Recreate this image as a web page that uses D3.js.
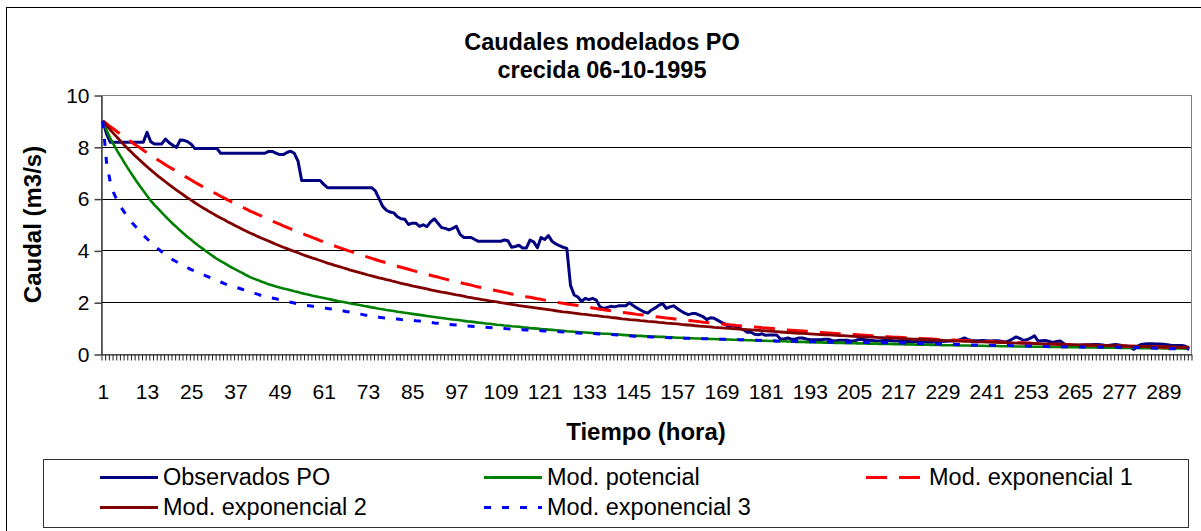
<!DOCTYPE html>
<html>
<head>
<meta charset="utf-8">
<script src="https://cdn.jsdelivr.net/npm/d3@7"></script>
<style>
  body { margin: 0; background: #fff; }
  svg text { font-family: "Liberation Sans", Arial, sans-serif; fill: #000; }
</style>
</head>
<body>
<div id="chart"></div>
<script>
// Hours 1..296 (category axis)
var hours = d3.range(1, 297);
var tickHours = [1, 13, 25, 37, 49, 61, 73, 85, 97, 109, 121, 133, 145, 157, 169, 181, 193, 205, 217, 229, 241, 253, 265, 277, 289];
var yTicks = [0, 2, 4, 6, 8, 10];
var seriesNames = ["Observados PO", "Mod. potencial", "Mod. exponencial 1", "Mod. exponencial 2", "Mod. exponencial 3"];

var observados = [
  9.00,8.50,8.18,8.18,8.18,8.18,8.18,8.18,8.18,8.18,
  8.18,8.18,8.56,8.20,8.11,8.11,8.11,8.30,8.16,8.06,
  7.98,8.26,8.25,8.20,8.10,7.93,7.93,7.93,7.93,7.93,
  7.93,7.93,7.75,7.75,7.75,7.75,7.75,7.75,7.75,7.75,
  7.75,7.75,7.75,7.75,7.75,7.82,7.82,7.76,7.70,7.70,
  7.78,7.83,7.75,7.45,6.70,6.70,6.70,6.70,6.70,6.70,
  6.55,6.42,6.42,6.42,6.42,6.42,6.42,6.42,6.42,6.42,
  6.42,6.42,6.42,6.42,6.30,6.00,5.70,5.55,5.48,5.45,
  5.30,5.22,5.20,5.00,5.05,5.05,4.93,4.99,4.92,5.10,
  5.22,5.05,4.88,4.85,4.79,4.85,4.93,4.62,4.50,4.50,
  4.50,4.42,4.35,4.35,4.35,4.35,4.35,4.35,4.35,4.40,
  4.37,4.12,4.15,4.20,4.09,4.09,4.40,4.33,4.10,4.50,
  4.42,4.57,4.35,4.25,4.18,4.12,4.08,2.65,2.28,2.20,
  2.03,2.15,2.10,2.15,2.08,1.82,1.76,1.80,1.84,1.82,
  1.86,1.86,1.86,1.98,1.87,1.78,1.70,1.62,1.58,1.70,
  1.78,1.88,1.95,1.76,1.82,1.86,1.76,1.66,1.58,1.52,
  1.56,1.56,1.50,1.44,1.33,1.40,1.38,1.30,1.22,1.15,
  1.05,1.10,1.05,0.98,0.94,0.84,0.84,0.76,0.74,0.78,
  0.72,0.73,0.73,0.73,0.58,0.58,0.62,0.57,0.57,0.62,
  0.62,0.58,0.55,0.55,0.55,0.55,0.57,0.57,0.52,0.50,
  0.53,0.53,0.53,0.50,0.50,0.55,0.57,0.55,0.53,0.52,
  0.50,0.50,0.52,0.53,0.52,0.50,0.50,0.49,0.48,0.48,
  0.47,0.47,0.46,0.46,0.45,0.45,0.46,0.47,0.48,0.49,
  0.50,0.50,0.52,0.56,0.62,0.55,0.52,0.51,0.51,0.52,
  0.51,0.50,0.51,0.51,0.49,0.46,0.50,0.58,0.66,0.60,
  0.53,0.55,0.62,0.70,0.50,0.51,0.52,0.48,0.45,0.48,
  0.50,0.40,0.32,0.30,0.32,0.34,0.35,0.36,0.36,0.37,
  0.37,0.36,0.34,0.33,0.35,0.37,0.35,0.32,0.30,0.25,
  0.18,0.30,0.37,0.39,0.40,0.40,0.39,0.39,0.38,0.36,
  0.34,0.33,0.33,0.33,0.30,0.20
];

var modPotencial = [
  9.00,8.65,8.34,8.07,7.82,7.59,7.35,7.13,6.91,6.70,
  6.50,6.30,6.11,5.92,5.76,5.61,5.46,5.31,5.17,5.03,
  4.90,4.77,4.64,4.52,4.41,4.29,4.18,4.08,3.97,3.87,
  3.77,3.67,3.59,3.51,3.42,3.34,3.27,3.19,3.12,3.04,
  2.97,2.91,2.86,2.80,2.75,2.69,2.65,2.61,2.57,2.53,
  2.50,2.46,2.42,2.39,2.35,2.32,2.29,2.25,2.22,2.19,
  2.16,2.13,2.10,2.07,2.04,2.02,1.99,1.96,1.93,1.91,
  1.88,1.85,1.83,1.80,1.78,1.75,1.73,1.70,1.68,1.66,
  1.63,1.61,1.59,1.57,1.55,1.53,1.51,1.49,1.47,1.45,
  1.43,1.41,1.39,1.37,1.35,1.33,1.32,1.30,1.28,1.26,
  1.25,1.23,1.21,1.20,1.18,1.17,1.15,1.13,1.12,1.10,
  1.09,1.07,1.06,1.05,1.03,1.02,1.00,0.99,0.98,0.96,
  0.95,0.94,0.93,0.92,0.91,0.90,0.88,0.87,0.86,0.85,
  0.84,0.83,0.82,0.81,0.80,0.79,0.78,0.78,0.77,0.76,
  0.75,0.74,0.73,0.72,0.71,0.70,0.70,0.69,0.68,0.67,
  0.67,0.66,0.66,0.65,0.64,0.64,0.63,0.63,0.62,0.61,
  0.61,0.60,0.60,0.59,0.59,0.58,0.58,0.57,0.57,0.56,
  0.56,0.55,0.55,0.54,0.54,0.53,0.53,0.52,0.52,0.51,
  0.51,0.50,0.50,0.49,0.49,0.49,0.48,0.48,0.47,0.47,
  0.47,0.46,0.46,0.46,0.45,0.45,0.44,0.44,0.44,0.43,
  0.43,0.43,0.42,0.42,0.42,0.41,0.41,0.41,0.40,0.40,
  0.40,0.39,0.39,0.39,0.39,0.38,0.38,0.38,0.37,0.37,
  0.37,0.36,0.36,0.36,0.36,0.35,0.35,0.35,0.34,0.34,
  0.34,0.34,0.33,0.33,0.33,0.33,0.32,0.32,0.32,0.32,
  0.31,0.31,0.31,0.31,0.30,0.30,0.30,0.30,0.29,0.29,
  0.29,0.29,0.28,0.28,0.28,0.28,0.28,0.27,0.27,0.27,
  0.27,0.26,0.26,0.26,0.26,0.26,0.25,0.25,0.25,0.25,
  0.25,0.24,0.24,0.24,0.24,0.24,0.23,0.23,0.23,0.23,
  0.23,0.23,0.22,0.22,0.22,0.22,0.22,0.22,0.21,0.21,
  0.21,0.21,0.21,0.21,0.20,0.20
];

var modExp1 = [
  9.00,8.89,8.78,8.68,8.57,8.47,8.36,8.26,8.16,8.06,
  7.97,7.87,7.77,7.68,7.59,7.49,7.40,7.31,7.22,7.14,
  7.05,6.97,6.88,6.80,6.72,6.63,6.55,6.47,6.40,6.32,
  6.24,6.17,6.09,6.02,5.94,5.87,5.80,5.73,5.66,5.59,
  5.52,5.46,5.39,5.33,5.26,5.20,5.13,5.07,5.01,4.95,
  4.89,4.83,4.77,4.71,4.66,4.60,4.55,4.49,4.44,4.38,
  4.33,4.28,4.22,4.17,4.12,4.07,4.02,3.97,3.93,3.88,
  3.83,3.78,3.74,3.69,3.65,3.60,3.56,3.52,3.48,3.43,
  3.39,3.35,3.31,3.27,3.23,3.19,3.15,3.11,3.08,3.04,
  3.00,2.97,2.93,2.89,2.86,2.82,2.79,2.76,2.72,2.69,
  2.66,2.62,2.59,2.56,2.53,2.50,2.47,2.44,2.41,2.38,
  2.35,2.32,2.30,2.27,2.24,2.21,2.19,2.16,2.13,2.11,
  2.08,2.06,2.03,2.01,1.98,1.96,1.93,1.91,1.89,1.87,
  1.84,1.82,1.80,1.78,1.76,1.73,1.71,1.69,1.67,1.65,
  1.63,1.61,1.59,1.57,1.55,1.53,1.52,1.50,1.48,1.46,
  1.44,1.43,1.41,1.39,1.38,1.36,1.34,1.33,1.31,1.29,
  1.28,1.26,1.25,1.23,1.22,1.20,1.19,1.17,1.16,1.15,
  1.13,1.12,1.10,1.09,1.08,1.06,1.05,1.04,1.03,1.01,
  1.00,0.99,0.98,0.97,0.95,0.94,0.93,0.92,0.91,0.90,
  0.89,0.88,0.86,0.85,0.84,0.83,0.82,0.81,0.80,0.79,
  0.78,0.78,0.77,0.76,0.75,0.74,0.73,0.72,0.71,0.70,
  0.69,0.69,0.68,0.67,0.66,0.65,0.65,0.64,0.63,0.62,
  0.61,0.61,0.60,0.59,0.59,0.58,0.57,0.56,0.56,0.55,
  0.54,0.54,0.53,0.52,0.52,0.51,0.51,0.50,0.49,0.49,
  0.48,0.48,0.47,0.46,0.46,0.45,0.45,0.44,0.44,0.43,
  0.43,0.42,0.42,0.41,0.41,0.40,0.40,0.39,0.39,0.38,
  0.38,0.37,0.37,0.36,0.36,0.35,0.35,0.35,0.34,0.34,
  0.33,0.33,0.33,0.32,0.32,0.31,0.31,0.31,0.30,0.30,
  0.30,0.29,0.29,0.28,0.28,0.28,0.27,0.27,0.27,0.26,
  0.26,0.26,0.26,0.25,0.25,0.25
];

var modExp2 = [
  9.00,8.83,8.66,8.50,8.35,8.19,8.04,7.90,7.76,7.62,
  7.49,7.36,7.23,7.11,6.99,6.87,6.76,6.65,6.54,6.43,
  6.33,6.23,6.13,6.03,5.94,5.84,5.75,5.66,5.58,5.49,
  5.41,5.33,5.25,5.18,5.10,5.03,4.95,4.88,4.81,4.74,
  4.67,4.61,4.54,4.48,4.42,4.36,4.30,4.24,4.18,4.12,
  4.07,4.01,3.96,3.91,3.85,3.80,3.75,3.70,3.66,3.61,
  3.56,3.51,3.47,3.42,3.38,3.34,3.30,3.25,3.21,3.17,
  3.13,3.09,3.05,3.02,2.98,2.94,2.91,2.87,2.84,2.80,
  2.77,2.73,2.70,2.67,2.63,2.60,2.57,2.54,2.51,2.48,
  2.45,2.42,2.39,2.37,2.34,2.31,2.28,2.26,2.23,2.20,
  2.18,2.15,2.13,2.10,2.08,2.05,2.03,2.01,1.98,1.96,
  1.94,1.92,1.90,1.87,1.85,1.83,1.81,1.79,1.77,1.75,
  1.73,1.71,1.69,1.67,1.65,1.63,1.62,1.60,1.58,1.56,
  1.54,1.53,1.51,1.49,1.48,1.46,1.44,1.43,1.41,1.40,
  1.38,1.36,1.35,1.33,1.32,1.31,1.29,1.28,1.26,1.25,
  1.24,1.22,1.21,1.19,1.18,1.17,1.16,1.14,1.13,1.12,
  1.11,1.09,1.08,1.07,1.06,1.05,1.03,1.02,1.01,1.00,
  0.99,0.98,0.97,0.96,0.95,0.94,0.93,0.92,0.91,0.90,
  0.89,0.88,0.87,0.86,0.85,0.84,0.83,0.82,0.81,0.80,
  0.80,0.79,0.78,0.77,0.76,0.75,0.74,0.74,0.73,0.72,
  0.71,0.71,0.70,0.69,0.68,0.67,0.67,0.66,0.65,0.65,
  0.64,0.63,0.63,0.62,0.61,0.61,0.60,0.59,0.59,0.58,
  0.57,0.57,0.56,0.56,0.55,0.54,0.54,0.53,0.53,0.52,
  0.52,0.51,0.50,0.50,0.49,0.49,0.48,0.48,0.47,0.47,
  0.46,0.46,0.45,0.45,0.44,0.44,0.43,0.43,0.42,0.42,
  0.41,0.41,0.41,0.40,0.40,0.39,0.39,0.38,0.38,0.38,
  0.37,0.37,0.36,0.36,0.36,0.35,0.35,0.34,0.34,0.34,
  0.33,0.33,0.33,0.32,0.32,0.32,0.31,0.31,0.31,0.30,
  0.30,0.30,0.29,0.29,0.29,0.28,0.28,0.28,0.27,0.27,
  0.27,0.27,0.26,0.26,0.26,0.26
];

var modExp3 = [
  9.00,7.40,6.65,6.20,5.90,5.65,5.44,5.24,5.06,4.90,
  4.74,4.59,4.45,4.31,4.18,4.06,3.95,3.84,3.74,3.64,
  3.56,3.48,3.40,3.33,3.26,3.20,3.14,3.08,3.02,2.96,
  2.90,2.84,2.78,2.72,2.66,2.62,2.58,2.54,2.49,2.45,
  2.40,2.35,2.31,2.26,2.22,2.19,2.16,2.13,2.10,2.07,
  2.03,2.00,1.97,1.93,1.90,1.88,1.86,1.84,1.82,1.80,
  1.78,1.76,1.74,1.72,1.70,1.67,1.64,1.62,1.59,1.57,
  1.54,1.51,1.49,1.46,1.44,1.42,1.40,1.39,1.37,1.36,
  1.35,1.33,1.32,1.31,1.30,1.28,1.27,1.25,1.24,1.22,
  1.20,1.19,1.17,1.16,1.14,1.13,1.12,1.10,1.09,1.08,
  1.07,1.06,1.05,1.04,1.03,1.02,1.01,1.00,0.99,0.98,
  0.97,0.96,0.96,0.95,0.94,0.93,0.92,0.92,0.91,0.90,
  0.89,0.88,0.88,0.87,0.86,0.85,0.84,0.83,0.82,0.81,
  0.80,0.80,0.79,0.79,0.78,0.77,0.76,0.76,0.75,0.74,
  0.73,0.72,0.71,0.70,0.69,0.68,0.68,0.67,0.67,0.66,
  0.65,0.65,0.64,0.64,0.63,0.63,0.62,0.62,0.61,0.61,
  0.61,0.60,0.60,0.59,0.59,0.59,0.58,0.58,0.57,0.57,
  0.57,0.56,0.56,0.55,0.55,0.54,0.54,0.53,0.53,0.52,
  0.52,0.51,0.51,0.50,0.50,0.50,0.50,0.49,0.49,0.49,
  0.48,0.48,0.47,0.47,0.47,0.46,0.46,0.46,0.45,0.45,
  0.45,0.45,0.45,0.45,0.44,0.44,0.44,0.44,0.44,0.44,
  0.44,0.43,0.43,0.43,0.43,0.43,0.42,0.42,0.42,0.42,
  0.42,0.41,0.41,0.40,0.40,0.40,0.39,0.39,0.38,0.38,
  0.38,0.37,0.37,0.36,0.36,0.35,0.35,0.35,0.34,0.34,
  0.34,0.34,0.33,0.33,0.33,0.33,0.33,0.32,0.32,0.32,
  0.32,0.31,0.31,0.30,0.30,0.29,0.29,0.29,0.28,0.28,
  0.28,0.28,0.28,0.27,0.27,0.27,0.27,0.27,0.27,0.27,
  0.27,0.27,0.26,0.26,0.26,0.26,0.26,0.26,0.25,0.25,
  0.25,0.25,0.24,0.24,0.23,0.23,0.22,0.22,0.21,0.21,
  0.20,0.20,0.20,0.19,0.19,0.19
];

var visualize = function() {
  var width = 1201, height = 531;
  var plot = { left: 101, right: 1191, top: 95, bottom: 354 };

  var svg = d3.select("#chart")
    .append("svg")
    .attr("width", width)
    .attr("height", height);

  // outer chart border (runs off the right and bottom edges)
  svg.append("rect")
    .attr("x", 6.5).attr("y", 7.5)
    .attr("width", 1300).attr("height", 600)
    .attr("fill", "#fff")
    .attr("stroke", "#000");

  // title
  var title = svg.append("text")
    .attr("text-anchor", "middle")
    .style("font-size", "23.5px")
    .style("font-weight", "bold");
  title.append("tspan").attr("x", 602).attr("y", 50).text("Caudales modelados PO");
  title.append("tspan").attr("x", 602).attr("y", 78).text("crecida 06-10-1995");

  var x = d3.scaleLinear()
    .domain([0.5, hours.length + 0.5])
    .range([plot.left, plot.right]);

  var y = d3.scaleLinear()
    .domain([0, 10])
    .range([plot.bottom, plot.top]);

  // plot area
  svg.append("rect")
    .attr("x", plot.left + 0.5).attr("y", plot.top + 0.5)
    .attr("width", plot.right - plot.left).attr("height", plot.bottom - plot.top)
    .attr("fill", "#fff")
    .attr("stroke", "#808080");

  // horizontal gridlines
  svg.selectAll(".grid")
    .data(yTicks.filter(function(d) { return d > 0 && d < 10; }))
    .enter()
    .append("line")
    .attr("class", "grid")
    .attr("x1", plot.left).attr("x2", plot.right)
    .attr("y1", function(d) { return Math.round(y(d)) + 0.5; })
    .attr("y2", function(d) { return Math.round(y(d)) + 0.5; })
    .attr("stroke", "#000");

  // y axis
  var yAxis = svg.append("g")
    .attr("transform", "translate(" + (plot.left + 0.5) + ",0.5)")
    .call(d3.axisLeft(y).tickValues(yTicks).tickSize(7).tickSizeOuter(0).tickPadding(5));
  yAxis.selectAll("path, line").attr("stroke", "#404040").attr("stroke-width", 1.5);
  yAxis.selectAll("text").style("font-size", "21px").attr("font-family", null);

  // x axis: a tick at every hour boundary
  var boundaries = hours.map(function(h) { return h - 0.5; }).concat([hours.length + 0.5]);
  var xAxis = svg.append("g")
    .attr("transform", "translate(0.5," + (plot.bottom + 0.5) + ")")
    .call(d3.axisBottom(x).tickValues(boundaries).tickSize(6).tickSizeOuter(0).tickFormat(""));
  xAxis.selectAll("path, line").attr("stroke", "#202020");

  // x labels every 12 hours
  var xLabels = svg.append("g")
    .attr("transform", "translate(0," + plot.bottom + ")")
    .call(d3.axisBottom(x).tickValues(tickHours).tickSize(0).tickPadding(30));
  xLabels.select(".domain").remove();
  xLabels.selectAll("text").style("font-size", "21px").attr("font-family", null);

  // axis titles
  svg.append("text")
    .attr("x", (plot.left + plot.right) / 2)
    .attr("y", 432)
    .attr("dy", "0.35em")
    .attr("text-anchor", "middle")
    .style("font-size", "24px")
    .style("font-weight", "bold")
    .text("Tiempo (hora)");

  svg.append("text")
    .attr("transform", "translate(33," + (plot.top + plot.bottom) / 2 + ") rotate(-90)")
    .attr("dy", "0.35em")
    .attr("text-anchor", "middle")
    .style("font-size", "24px")
    .style("font-weight", "bold")
    .text("Caudal (m3/s)");

  // series, in Excel drawing order
  var series = [
    { name: seriesNames[0], values: observados, color: "#000080", width: 3, dash: null },
    { name: seriesNames[1], values: modPotencial, color: "#008000", width: 2.6, dash: null },
    { name: seriesNames[2], values: modExp1, color: "#FF0000", width: 3, dash: "21,12" },
    { name: seriesNames[3], values: modExp2, color: "#800000", width: 2.8, dash: null },
    { name: seriesNames[4], values: modExp3, color: "#0000FF", width: 3, dash: "7,11" }
  ];

  var line = d3.line()
    .x(function(d, i) { return x(hours[i]); })
    .y(function(d) { return y(d); });

  svg.append("g")
    .selectAll("path")
    .data(series)
    .enter()
    .append("path")
    .attr("d", function(d) { return line(d.values); })
    .attr("fill", "none")
    .attr("stroke", function(d) { return d.color; })
    .attr("stroke-width", function(d) { return d.width; })
    .attr("stroke-dasharray", function(d) { return d.dash; })
    .attr("stroke-linejoin", "round");

  // legend
  var legend = svg.append("g");
  legend.append("rect")
    .attr("x", 43.5).attr("y", 459.5)
    .attr("width", 1145).attr("height", 68)
    .attr("fill", "#fff")
    .attr("stroke", "#303030");

  var colX = [100, 484, 866];
  var rowY = [477, 507];

  var items = legend.selectAll(".item")
    .data(series)
    .enter()
    .append("g")
    .attr("class", "item")
    .attr("transform", function(d, i) {
      return "translate(" + colX[i % 3] + "," + rowY[Math.floor(i / 3)] + ")";
    });

  items.append("line")
    .attr("x1", 0).attr("x2", 58)
    .attr("y1", 0.5).attr("y2", 0.5)
    .attr("stroke", function(d) { return d.color; })
    .attr("stroke-width", 3)
    .attr("stroke-dasharray", function(d) { return d.dash; });

  items.append("text")
    .attr("x", 63)
    .attr("dy", "0.35em")
    .style("font-size", "23.5px")
    .text(function(d) { return d.name; });
};

visualize();
</script>
</body>
</html>
